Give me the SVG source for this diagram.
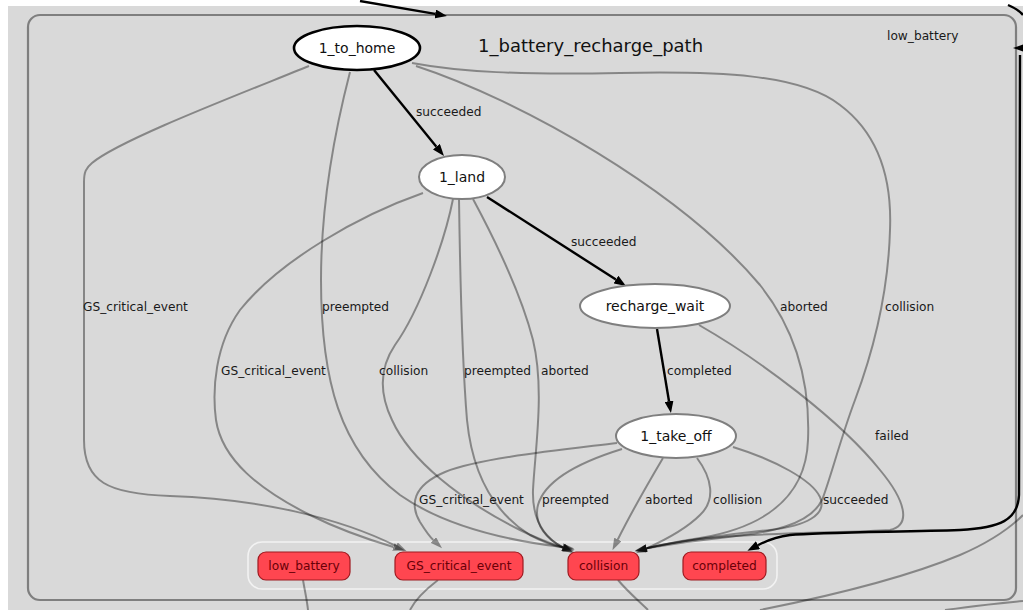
<svg xmlns="http://www.w3.org/2000/svg" width="1023" height="610" viewBox="0 0 1023 610">
  <defs>
    <style>
      .bg { fill: #d9d9d9; }
      .box { fill: #d9d9d9; stroke: #7f7f7f; stroke-width: 2.2; }
      .grp { fill: none; stroke: #f2f2f2; stroke-width: 1.6; }
      .st { fill: #ffffff; stroke: #7f7f7f; stroke-width: 2; }
      .st.active { stroke: #000000; stroke-width: 2.6; }
      .out { fill: #ff4650; stroke: #9e1a20; stroke-width: 1.2; }
      .e { fill: none; stroke: #000000; stroke-opacity: 0.38; stroke-width: 2; }
      .eb { fill: none; stroke: #000000; stroke-width: 2.4; }
      .lbl { font-family: "DejaVu Sans", sans-serif; font-size: 12.2px; fill: #1a1a1a; }
      .nlbl { font-family: "DejaVu Sans", sans-serif; font-size: 14px; fill: #111111; text-anchor: middle; }
      .olbl { font-family: "DejaVu Sans", sans-serif; font-size: 12.2px; fill: #6a0008; text-anchor: middle; }
      .title { font-family: "DejaVu Sans", sans-serif; font-size: 18px; fill: #111111; }
    </style>
    <marker id="ag" viewBox="0 0 12 8" refX="0" refY="4" markerWidth="12" markerHeight="8" markerUnits="userSpaceOnUse" orient="auto">
      <path d="M0,0 L12,4 L0,8 z" fill="#000000" fill-opacity="0.4"/>
    </marker>
    <marker id="ab" viewBox="0 0 12 9" refX="0" refY="4.5" markerWidth="12" markerHeight="9" markerUnits="userSpaceOnUse" orient="auto">
      <path d="M0,0 L12,4.5 L0,9 z" fill="#000000"/>
    </marker>
  </defs>

  <!-- canvas -->
  <rect x="0" y="0" width="1023" height="610" fill="#ffffff"/>
  <rect class="bg" x="8" y="6" width="1015" height="604"/>

  <!-- container state machine -->
  <g id="cluster_1_battery_recharge_path">
    <rect class="box" x="28" y="15" width="988" height="585" rx="12"/>
    <text class="title" x="478" y="52">1_battery_recharge_path</text>
    <rect class="grp" x="248" y="542" width="529" height="47" rx="14"/>
  </g>

  <!-- transitions -->
  <g id="connectors">
    <!-- leaving the container below -->
    <path class="e" d="M303,580 C305,592 307,600 308,610"/>
    <path class="e" d="M438,580 C425,590 415,600 410,610"/>
    <path class="e" d="M618,580 C628,592 640,602 648,610"/>
    <path class="e" d="M760,610 C820,598 900,580 960,555 C990,542 1010,528 1023,515"/>
    <path class="e" d="M945,610 C975,606 1000,603 1023,601"/>

    <!-- from 1_to_home -->
    <path class="e" marker-end="url(#ag)" d="M309,66 C230,98 120,140 92,163 C86,168 84,172 84,182 L84,440 C84,482 108,494 170,496 C260,499 340,518 396,546"/>
    <path class="e" marker-end="url(#ag)" d="M350,72 C335,130 321,200 321,280 C321,380 340,450 400,495 C450,530 520,542 562.4,547.1"/>
    <path class="e" marker-end="url(#ag)" d="M416,66 C520,100 680,190 760,285 C800,335 810,390 808,440 C806,500 760,528 700,538 C675,542 660,545 646.7,548.3"/>
    <path class="e" marker-end="url(#ag)" d="M412,63 C460,72 520,75 620,73 C720,71 800,74 840,105 C880,135 892,180 890,230 C888,300 870,360 855,400 C840,440 830,480 822,500 C810,525 770,533 720,538 C690,541 665,545 646.7,548.3"/>

    <!-- from 1_land -->
    <path class="e" marker-end="url(#ag)" d="M423,193 C360,215 280,260 240,310 C215,345 212,390 216,420 C222,460 260,490 310,515 C340,530 370,540 393.4,547"/>
    <path class="e" marker-end="url(#ag)" d="M453,199 C445,240 420,310 395,345 C378,370 380,395 392,420 C410,460 460,500 520,530 C540,540 552,544 563,547.5"/>
    <path class="e" marker-end="url(#ag)" d="M459,199 C460,270 462,360 467,420 C472,470 490,510 530,535 C545,543 555,546 563,547.5"/>
    <path class="e" marker-end="url(#ag)" d="M473,199 C495,240 520,290 533,340 C545,390 535,450 533,490 C532,520 545,538 563,547.5"/>

    <!-- from recharge_wait -->
    <path class="e" marker-end="url(#ag)" d="M699,325 C760,360 840,420 880,470 C905,500 912,525 890,530 C850,533 760,532 700,539 C675,542 660,545 646.7,548.3"/>

    <!-- from 1_take_off -->
    <path class="e" marker-end="url(#ag)" d="M617,443 C560,450 480,458 445,472 C412,486 410,505 420,522 C425,530 429,536 433.3,540"/>
    <path class="e" marker-end="url(#ag)" d="M622,449 C580,462 545,480 538,505 C533,525 548,540 563,547.5"/>
    <path class="e" marker-end="url(#ag)" d="M663,458 C650,480 630,515 617.8,539.5"/>
    <path class="e" marker-end="url(#ag)" d="M697,458 C712,478 716,500 700,515 C685,530 665,540 646.7,548.3"/>
    <path class="e" marker-end="url(#ag)" d="M733,447 C775,460 812,480 820,497 C828,515 805,526 770,530 C720,535 670,543 646.7,548.3"/>

    <!-- active transitions -->
    <path class="eb" marker-end="url(#ab)" d="M374,70 L436.4,146.7"/>
    <path class="eb" marker-end="url(#ab)" d="M487,197 L615.9,279.5"/>
    <path class="eb" marker-end="url(#ab)" d="M657,329 L669,401.2"/>
    <path class="eb" marker-end="url(#ab)" d="M360,1 L435.2,13.9"/>
    <path class="eb" marker-end="url(#ab)" d="M1020,55 L1019,495 C1018,520 1000,528 960,530 C900,532 820,532 790,535 C775,537 766,541 758,545.2"/>
    <path class="eb" d="M1008,5 C1015,8 1020,11 1023,15"/>
    <polygon points="1013,48 1023,44.5 1023,51.5" fill="#000000"/>

    <!-- transition labels -->
    <text class="lbl" x="416" y="116">succeeded</text>
    <text class="lbl" x="571" y="246">succeeded</text>
    <text class="lbl" x="83" y="311">GS_critical_event</text>
    <text class="lbl" x="322" y="311">preempted</text>
    <text class="lbl" x="780" y="311">aborted</text>
    <text class="lbl" x="885" y="311">collision</text>
    <text class="lbl" x="221" y="375">GS_critical_event</text>
    <text class="lbl" x="379" y="375">collision</text>
    <text class="lbl" x="464" y="375">preempted</text>
    <text class="lbl" x="541" y="375">aborted</text>
    <text class="lbl" x="667" y="375">completed</text>
    <text class="lbl" x="875" y="440">failed</text>
    <text class="lbl" x="419" y="504">GS_critical_event</text>
    <text class="lbl" x="542" y="504">preempted</text>
    <text class="lbl" x="645" y="504">aborted</text>
    <text class="lbl" x="713" y="504">collision</text>
    <text class="lbl" x="823" y="504">succeeded</text>
    <text class="lbl" x="887" y="40">low_battery</text>
  </g>

  <!-- states -->
  <g id="node_1_to_home">
    <ellipse class="st active" cx="357" cy="48" rx="63" ry="22"/>
    <text class="nlbl" x="357" y="53">1_to_home</text>
  </g>
  <g id="node_1_land">
    <ellipse class="st" cx="462" cy="177" rx="43" ry="22"/>
    <text class="nlbl" x="462" y="182">1_land</text>
  </g>
  <g id="node_recharge_wait">
    <ellipse class="st" cx="655" cy="306" rx="75" ry="22"/>
    <text class="nlbl" x="655" y="311">recharge_wait</text>
  </g>
  <g id="node_1_take_off">
    <ellipse class="st" cx="676" cy="436" rx="60" ry="22"/>
    <text class="nlbl" x="676" y="441">1_take_off</text>
  </g>

  <!-- container outcomes -->
  <g id="outcome_low_battery">
    <rect class="out" x="258" y="552" width="92" height="28" rx="8"/>
    <text class="olbl" x="304" y="570">low_battery</text>
  </g>
  <g id="outcome_GS_critical_event">
    <rect class="out" x="395" y="552" width="128" height="28" rx="8"/>
    <text class="olbl" x="459" y="570">GS_critical_event</text>
  </g>
  <g id="outcome_collision">
    <rect class="out" x="568" y="552" width="71" height="28" rx="8"/>
    <text class="olbl" x="603.5" y="570">collision</text>
  </g>
  <g id="outcome_completed">
    <rect class="out" x="683" y="552" width="83" height="28" rx="8"/>
    <text class="olbl" x="724.5" y="570">completed</text>
  </g>
</svg>
